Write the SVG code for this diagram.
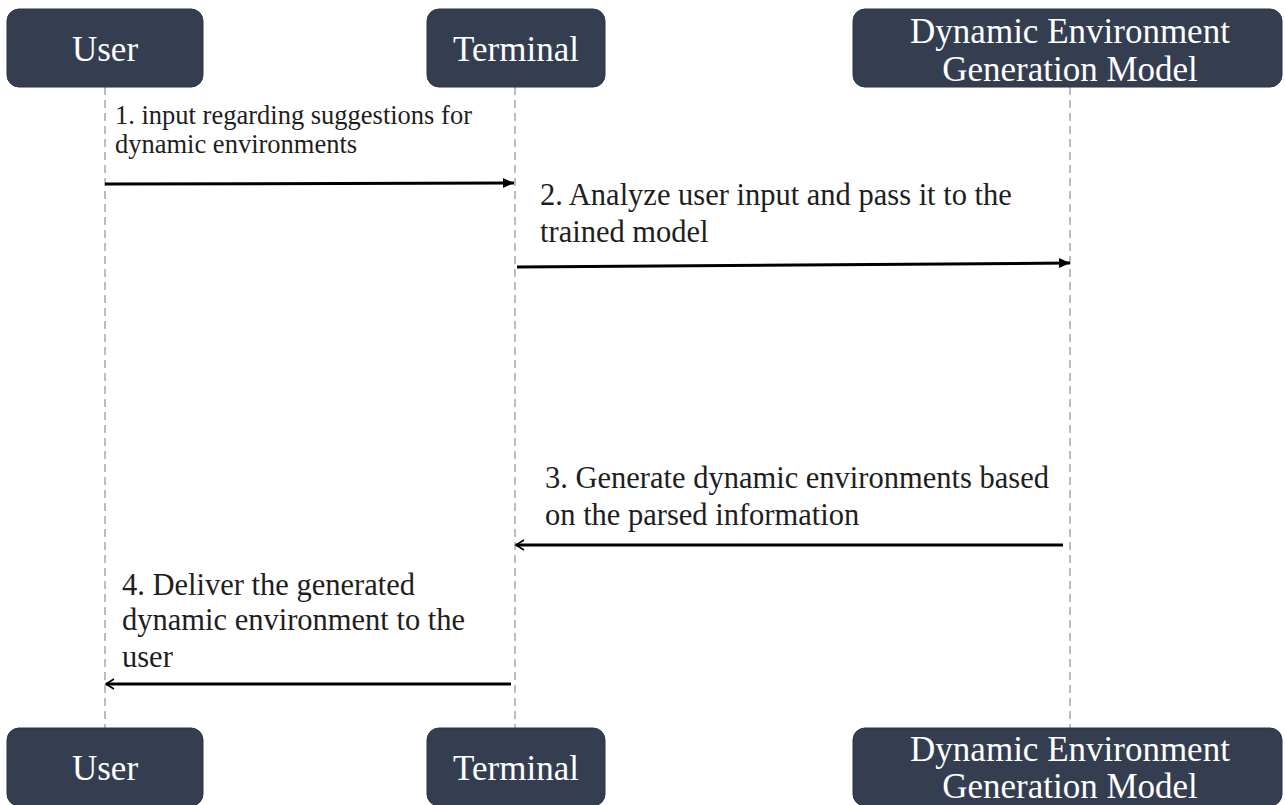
<svg xmlns="http://www.w3.org/2000/svg" width="1285" height="805" viewBox="0 0 1285 805">
<style>
.box{fill:#343e50;stroke:#2b3444;stroke-width:1}
.hd{font-family:"Liberation Serif","Times New Roman",serif;font-size:35px;fill:#ffffff;text-anchor:middle}
.lbl{font-family:"Liberation Serif","Times New Roman",serif;fill:#1e1e1e}
.life{stroke:#a8a8a8;stroke-width:1.5;stroke-dasharray:8 5;fill:none}
.msg{stroke:#000;stroke-width:3;fill:none}
</style>
<defs>
<marker id="solid" markerWidth="12" markerHeight="11" refX="11" refY="5.5" orient="auto" markerUnits="userSpaceOnUse">
<path d="M0,0.5 L11,5.5 L0,10.5 Z" fill="#000"/>
</marker>
<marker id="open" markerWidth="12" markerHeight="12" refX="9" refY="6" orient="auto" markerUnits="userSpaceOnUse">
<path d="M1,1 L9,6 L1,11" fill="none" stroke="#000" stroke-width="1.6"/>
</marker>
</defs>
<g id="lifelines">
<line class="life" x1="105" y1="87" x2="105" y2="728"/>
<line class="life" x1="515" y1="87" x2="515" y2="728"/>
<line class="life" x1="1070" y1="87" x2="1070" y2="728"/>
</g>
<g id="user-top"><rect class="box" x="7" y="9" width="196" height="78" rx="12"/><text class="hd" x="105" y="61">User</text></g>
<g id="terminal-top"><rect class="box" x="427" y="9" width="178" height="78" rx="12"/><text class="hd" x="516" y="61">Terminal</text></g>
<g id="model-top"><rect class="box" x="853" y="9" width="429" height="78" rx="12"/><text class="hd"><tspan x="1070" y="43">Dynamic Environment</tspan><tspan x="1070" y="81">Generation Model</tspan></text></g>
<g id="user-bottom"><rect class="box" x="7" y="728" width="196" height="78" rx="12"/><text class="hd" x="105" y="780">User</text></g>
<g id="terminal-bottom"><rect class="box" x="427" y="728" width="178" height="78" rx="12"/><text class="hd" x="516" y="780">Terminal</text></g>
<g id="model-bottom"><rect class="box" x="853" y="728" width="429" height="78" rx="12"/><text class="hd"><tspan x="1070" y="761">Dynamic Environment</tspan><tspan x="1070" y="798">Generation Model</tspan></text></g>
<g id="connectors">
<line class="msg" x1="105" y1="184" x2="514" y2="183" marker-end="url(#solid)"/>
<line class="msg" x1="517" y1="267" x2="1070" y2="263" marker-end="url(#solid)"/>
<line class="msg" x1="1063" y1="545" x2="516" y2="545" marker-end="url(#open)"/>
<line class="msg" x1="511" y1="684" x2="106" y2="684" marker-end="url(#open)"/>
</g>
<g id="labels">
<text class="lbl" font-size="26.5" fill="#000"><tspan x="115" y="124">1. input regarding suggestions for</tspan><tspan x="115" y="153">dynamic environments</tspan></text>
<text class="lbl" font-size="30.5"><tspan x="540" y="205">2. Analyze user input and pass it to the</tspan><tspan x="540" y="242">trained model</tspan></text>
<text class="lbl" font-size="30.5"><tspan x="545" y="488">3. Generate dynamic environments based</tspan><tspan x="545" y="525">on the parsed information</tspan></text>
<text class="lbl" font-size="30.5"><tspan x="122" y="595">4. Deliver the generated</tspan><tspan x="122" y="630">dynamic environment to the</tspan><tspan x="122" y="667">user</tspan></text>
</g>
</svg>
